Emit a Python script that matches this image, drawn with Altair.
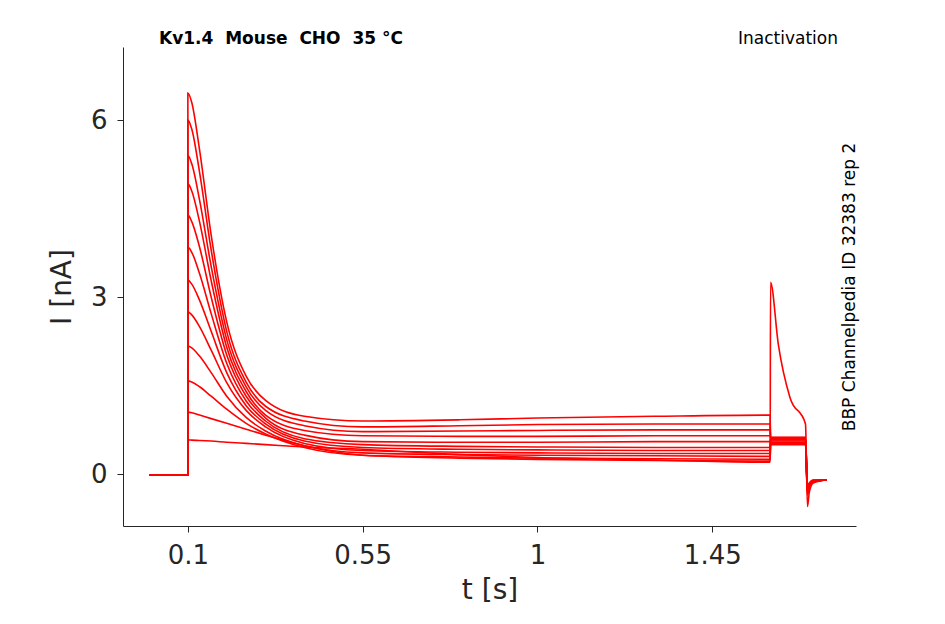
import altair as alt
import pandas as pd

# time samples (s)
t_pre = [0.0, 0.0999]
t_step = [0.1, 0.11, 0.13, 0.16, 0.2, 0.25, 0.3, 0.4, 0.55, 0.8, 1.0, 1.3, 1.599]
t_test = [1.6, 1.62, 1.65, 1.69, 1.695, 1.7, 1.71, 1.745]

# currents (nA) during the long step, one list per sweep
step = [
    [0.58, 0.575, 0.57, 0.56, 0.54, 0.52, 0.5, 0.46, 0.42, 0.33, 0.28, 0.24, 0.2],
    [1.05, 1.04, 1.0, 0.94, 0.86, 0.76, 0.66, 0.48, 0.32, 0.27, 0.25, 0.23, 0.22],
    [1.58, 1.56, 1.48, 1.32, 1.1, 0.86, 0.68, 0.45, 0.32, 0.29, 0.27, 0.26, 0.25],
    [2.17, 2.14, 2.0, 1.72, 1.32, 0.96, 0.73, 0.48, 0.36, 0.33, 0.32, 0.31, 0.3],
    [2.75, 2.7, 2.5, 2.1, 1.55, 1.08, 0.8, 0.52, 0.4, 0.37, 0.36, 0.35, 0.35],
    [3.29, 3.22, 2.95, 2.42, 1.72, 1.16, 0.85, 0.56, 0.45, 0.42, 0.41, 0.4, 0.4],
    [3.85, 3.76, 3.4, 2.72, 1.88, 1.24, 0.9, 0.6, 0.5, 0.47, 0.46, 0.45, 0.45],
    [4.39, 4.28, 3.85, 3.0, 2.02, 1.32, 0.95, 0.66, 0.55, 0.54, 0.54, 0.55, 0.55],
    [4.92, 4.8, 4.28, 3.28, 2.15, 1.4, 1.0, 0.74, 0.65, 0.64, 0.64, 0.65, 0.65],
    [5.4, 5.26, 4.65, 3.52, 2.28, 1.48, 1.08, 0.82, 0.72, 0.73, 0.74, 0.75, 0.75],
    [6.0, 5.85, 5.12, 3.8, 2.42, 1.56, 1.15, 0.9, 0.8, 0.82, 0.84, 0.85, 0.85],
    [6.46, 6.3, 5.5, 4.05, 2.58, 1.66, 1.25, 0.98, 0.9, 0.92, 0.95, 0.98, 1.0],
]

# currents (nA) during the test pulse
test = [
    [3.25, 2.2, 1.3, 0.85, -0.55, -0.3, -0.15, -0.1],
    [0.5, 0.5, 0.5, 0.5, -0.35, -0.2, -0.12, -0.1],
    [0.52, 0.52, 0.52, 0.52, -0.35, -0.2, -0.12, -0.1],
    [0.54, 0.54, 0.54, 0.54, -0.3, -0.2, -0.12, -0.1],
    [0.56, 0.56, 0.56, 0.56, -0.3, -0.2, -0.12, -0.1],
    [0.58, 0.58, 0.58, 0.58, -0.3, -0.2, -0.12, -0.1],
    [0.6, 0.6, 0.6, 0.6, -0.3, -0.2, -0.12, -0.1],
    [0.6, 0.6, 0.6, 0.6, -0.25, -0.18, -0.12, -0.1],
    [0.6, 0.6, 0.6, 0.6, -0.25, -0.18, -0.12, -0.1],
    [0.62, 0.62, 0.62, 0.62, -0.25, -0.18, -0.12, -0.1],
    [0.62, 0.62, 0.62, 0.62, -0.2, -0.15, -0.1, -0.1],
    [0.62, 0.62, 0.62, 0.62, -0.2, -0.15, -0.1, -0.1],
]
pre = [-0.02, -0.02]

rows = []
for k in range(len(step)):
    ts = t_pre + t_step + t_test
    vs = pre + step[k] + test[k]
    for t, v in zip(ts, vs):
        rows.append({"sweep": k, "t": t, "I": v})
df = pd.DataFrame(rows)
one = pd.DataFrame({"a": [0]})

font = "DejaVu Sans"
lines = alt.Chart(df).mark_line(color="#ff0000", strokeWidth=1.6, interpolate="monotone").encode(
    x=alt.X("t:Q", title="t [s]",
            scale=alt.Scale(domain=[-0.067, 1.82], nice=False, zero=False),
            axis=alt.Axis(values=[0.1, 0.55, 1, 1.45], labelExpr="datum.value == 0.1 ? '0.1' : format(datum.value, '~g')")),
    y=alt.Y("I:Q", title="I [nA]",
            scale=alt.Scale(domain=[-0.88, 7.24], nice=False, zero=False),
            axis=alt.Axis(values=[0, 3, 6])),
    detail="sweep:N",
    order="t:Q",
)

ttl = alt.Chart(one).mark_text(font=font, fontSize=17, fontWeight="bold", align="left", color="black").encode(
    x=alt.value(36), y=alt.value(-8), text=alt.value("Kv1.4\u00a0\u00a0Mouse\u00a0\u00a0CHO\u00a0\u00a035\u00a0°C"))
ina = alt.Chart(one).mark_text(font=font, fontSize=17, align="right", color="black").encode(
    x=alt.value(715), y=alt.value(-8), text=alt.value("Inactivation"))
side = alt.Chart(one).mark_text(font=font, fontSize=17, angle=270, color="black", baseline="middle").encode(
    x=alt.value(727), y=alt.value(240), text=alt.value("BBP Channelpedia ID 32383 rep 2"))

chart = alt.layer(lines, ttl, ina, side).properties(
    width=733, height=479, autosize="none",
    padding={"left": 115, "top": 39, "right": 81, "bottom": 90},
).configure_view(stroke=None).configure_axis(
    grid=False, labelFont=font, titleFont=font, labelFontSize=26, titleFontSize=28,
    labelColor="#262626", titleColor="#262626", domainColor="#262626", tickColor="#262626",
    titleFontWeight="normal", tickSize=6,
).configure_axisX(labelPadding=10, titlePadding=8).configure_axisY(labelPadding=10, titlePadding=14)

chart.save("out.html", embed_options={"renderer": "svg", "actions": False})
